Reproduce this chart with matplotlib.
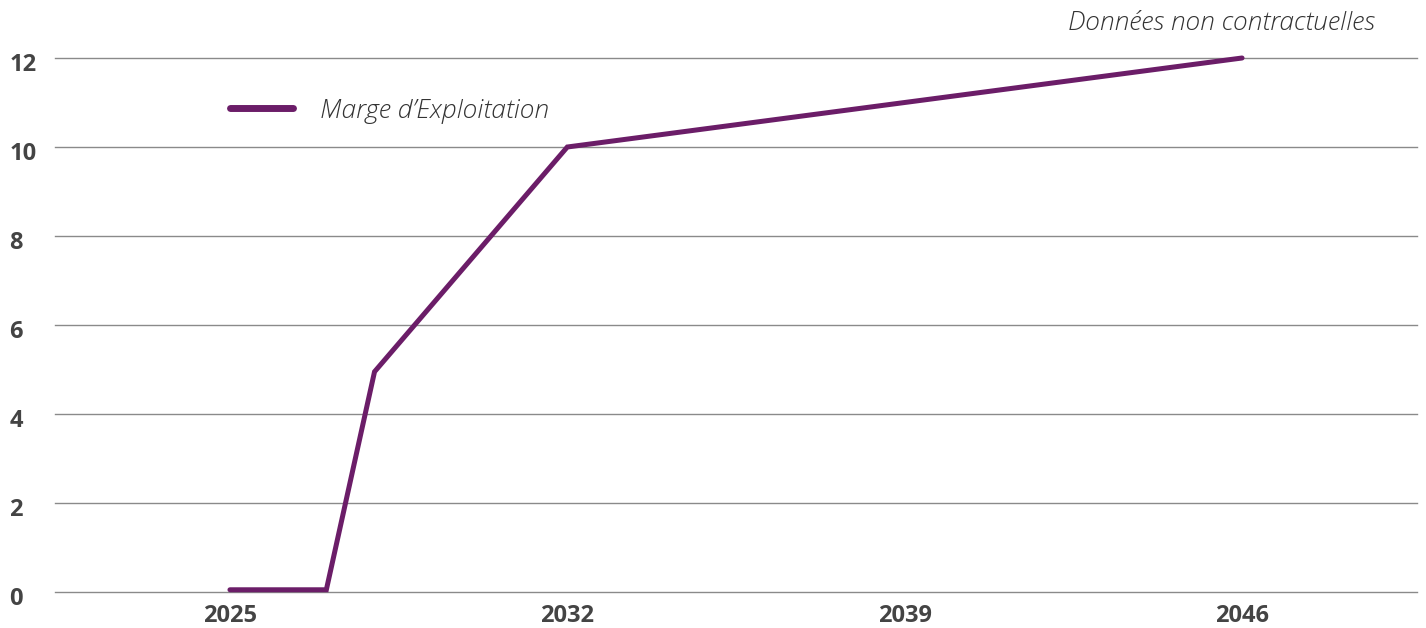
import matplotlib
matplotlib.use('Agg')
import matplotlib.pyplot as plt
import matplotlib.transforms as mtrans

# données
annees = [2025, 2027, 2028, 2032, 2046]
marge = [0.05, 0.05, 4.95, 10.0, 12.0]
ticks_x = [2025, 2032, 2039, 2046]
ticks_y = [0, 2, 4, 6, 8, 10, 12]

violet = '#6b1d68'
gris_txt = '#444444'

plt.rcParams['font.family'] = ['Open Sans', 'DejaVu Sans']

fig = plt.figure(figsize=(14.26, 6.28), dpi=100)
ax = fig.add_axes([55/1426, 1-592/628, (1417-55)/1426, (592-58)/628])

ax.plot(annees, marge, color=violet, linewidth=3.6, solid_capstyle='round',
        solid_joinstyle='miter', clip_on=False, label='Marge d\u2019Exploitation', zorder=3)

ax.set_xlim(2021.37, 2049.63)
ax.set_ylim(0, 12)
ax.set_xticks(ticks_x)
ax.set_yticks(ticks_y)
ax.grid(axis='y', color='#8a8a8a', linewidth=1)
ax.set_axisbelow(True)
for gl in ax.get_ygridlines():
    gl.set_clip_on(False)
for s in ax.spines.values():
    s.set_visible(False)

ax.tick_params(axis='both', length=0, labelsize=17, labelcolor=gris_txt)
ax.tick_params(axis='x', pad=9)
ax.tick_params(axis='y', pad=33)
decal = mtrans.ScaledTranslation(0, -4/100, fig.dpi_scale_trans)
for lab in ax.get_yticklabels():
    lab.set_horizontalalignment('left')
    lab.set_fontweight('bold')
    lab.set_transform(lab.get_transform() + decal)
for lab in ax.get_xticklabels():
    lab.set_fontweight('bold')

leg = ax.legend(loc='center left', bbox_to_anchor=(230/1426, 1-111/628),
                bbox_transform=fig.transFigure, frameon=False, borderpad=0,
                borderaxespad=0, handlelength=2.4, handletextpad=1.0,
                prop={'size': 19, 'style': 'italic', 'weight': 'light'})
for t in leg.get_texts():
    t.set_color('#333333')
for l in leg.get_lines():
    l.set_linewidth(5)
    l.set_solid_capstyle('round')

fig.text(1375/1426, 1-24/628, 'Donn\u00e9es non contractuelles', ha='right', va='center',
         fontsize=19, style='italic', weight='light', color='#333333')

fig.savefig('out.png', dpi=100, facecolor='white')
